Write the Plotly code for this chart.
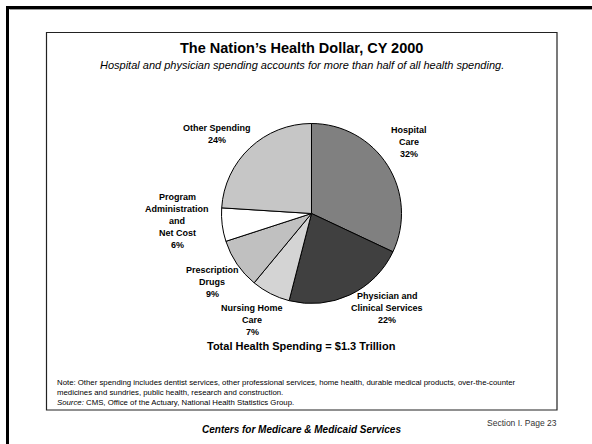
import plotly.graph_objects as go

W, H = 592, 444

categories = ["Hospital Care", "Physician and Clinical Services", "Nursing Home Care",
              "Prescription Drugs", "Program Administration and Net Cost", "Other Spending"]
values = [32, 22, 7, 9, 6, 24]
colors = ["#808080", "#404040", "#d4d4d4", "#c0c0c0", "#ffffff", "#c6c6c6"]
label_lines = [
    ["Hospital", "Care"],
    ["Physician and", "Clinical Services"],
    ["Nursing Home", "Care"],
    ["Prescription", "Drugs"],
    ["Program", "Administration", "and", "Net Cost"],
    ["Other Spending"],
]
# label block centre x and first-line y (pixels)
label_pos = [(409, 130), (387, 296), (252, 308), (212, 270), (177, 197), (217, 128)]

title = "The Nation\u2019s Health Dollar, CY 2000"
subtitle = "Hospital and physician spending accounts for more than half of all health spending."
total_text = "Total Health Spending = $1.3 Trillion"
note1 = "Note: Other spending includes dentist services, other professional services, home health, durable medical products, over-the-counter"
note2 = "medicines and sundries, public health, research and construction."
source = "<i>Source:</i> CMS, Office of the Actuary, National Health Statistics Group."
footer = "<b><i>Centers for Medicare &amp; Medicaid Services</i></b>"
page = "Section I. Page 23"

FONT = "Arial, Liberation Sans, sans-serif"

def px(x):
    return x / W

def py(y):
    return 1 - y / H

cx, cy, r = 311.5, 213.5, 90
fig = go.Figure(go.Pie(
    labels=categories, values=values, sort=False, direction="clockwise", rotation=0,
    marker=dict(colors=colors, line=dict(color="black", width=1)),
    textinfo="none", hoverinfo="label+percent", showlegend=False,
    domain=dict(x=[px(cx - r), px(cx + r)], y=[py(cy + r), py(cy - r)]),
))

ann = []
def text(x, y, t, size, bold=False, italic=False, xanchor="center", color="black"):
    if bold:
        t = "<b>" + t + "</b>"
    if italic:
        t = "<i>" + t + "</i>"
    ann.append(dict(x=px(x), y=py(y), xref="paper", yref="paper", text=t, showarrow=False,
                    xanchor=xanchor, yanchor="middle", font=dict(family=FONT, size=size, color=color)))

for lines, v, (lx, ly) in zip(label_lines, values, label_pos):
    for i, ln in enumerate(lines + [f"{v}%"]):
        text(lx, ly + i * 12, ln, 9, bold=True)

text(301.5, 48, title, 14.5, bold=True)
text(301.5, 65, subtitle, 11, italic=True)
text(301.5, 346, total_text, 11, bold=True)
text(55, 382, note1, 7.8, xanchor="left")
text(55, 392, note2, 7.8, xanchor="left")
text(55, 402, source, 7.8, xanchor="left")
text(301.5, 429, footer, 10)
text(559, 423, page, 8.5, xanchor="right", color="#333333")

shapes = [
    # outer frame
    dict(type="line", xref="paper", yref="paper", x0=px(7.5), x1=px(7.5), y0=py(444), y1=py(6.5),
         line=dict(color="black", width=3)),
    dict(type="line", xref="paper", yref="paper", x0=px(6), x1=px(592), y0=py(7.5), y1=py(7.5),
         line=dict(color="black", width=3)),
    dict(type="line", xref="paper", yref="paper", x0=px(9.5), x1=px(592), y0=py(9.5), y1=py(9.5),
         line=dict(color="#999999", width=1)),
    # inner box
    dict(type="rect", xref="paper", yref="paper", x0=px(46.5), x1=px(557), y0=py(410), y1=py(32.5),
         line=dict(color="#222222", width=1.2)),
]

fig.update_layout(
    width=W, height=H, margin=dict(l=0, r=0, t=0, b=0),
    paper_bgcolor="white", plot_bgcolor="white",
    annotations=ann, shapes=shapes,
)
fig.write_html("out.html", config={"displayModeBar": False},
               post_script="document.body.style.margin='0';document.body.style.padding='0';")
